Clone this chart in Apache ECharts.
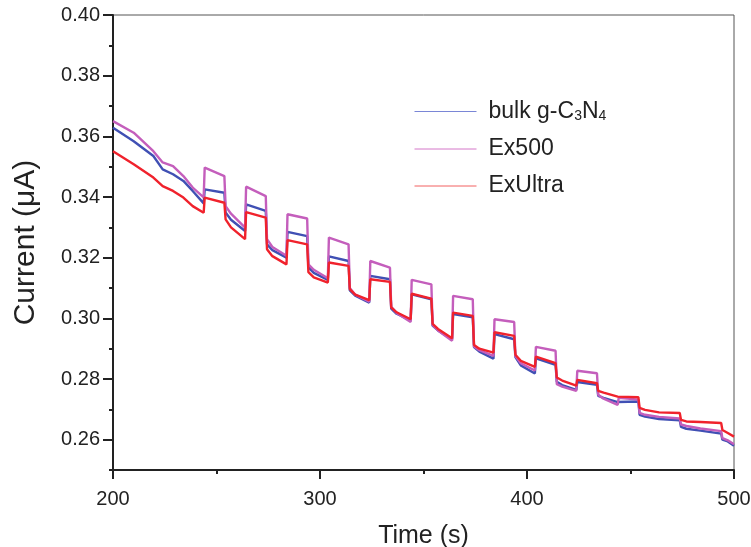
<!DOCTYPE html>
<html>
<head>
<meta charset="utf-8">
<script src="https://cdn.jsdelivr.net/npm/echarts@6/dist/echarts.min.js"></script>
<style>html,body{margin:0;padding:0;background:#fff}#c{width:751px;height:547px}</style>
</head>
<body>
<div id="c"></div>
<script>
var seriesNames = ['bulk g-C3N4', 'Ex500', 'ExUltra'];
var yTickLabels = [0.26, 0.28, 0.30, 0.32, 0.34, 0.36, 0.38, 0.40];
var xTickLabels = [200, 300, 400, 500];

var time = [200, 210, 219.5, 224, 229, 234, 238.5, 243.8,
  244.3, 253.8, 254.4, 257, 263.8,
  264.3, 273.8, 274.4, 277, 283.8,
  284.3, 293.8, 294.4, 297, 303.8,
  304.3, 313.8, 314.4, 317, 323.8,
  324.3, 333.8, 334.4, 337, 343.8,
  344.3, 353.8, 354.4, 357, 363.8,
  364.3, 373.8, 374.4, 377, 383.8,
  384.3, 393.8, 394.4, 397, 403.8,
  404.3, 413.8, 414.4, 417, 423.8,
  424.3, 433.8, 434.4, 437, 443.8,
  444.3, 453.8, 454.4, 457, 463.8,
  464.3, 473.8, 474.4, 477, 483.8,
  484.3, 493.8, 494.4, 497, 500];

var bulk = [0.3628, 0.3584, 0.3535, 0.3491, 0.3475, 0.3453, 0.3420, 0.3379,
  0.3425, 0.3414, 0.3349, 0.3325, 0.3288,
  0.3376, 0.3354, 0.3244, 0.3225, 0.3200,
  0.3285, 0.3271, 0.3168, 0.3150, 0.3127,
  0.3204, 0.3189, 0.3092, 0.3075, 0.3052,
  0.3140, 0.3129, 0.3032, 0.3015, 0.2993,
  0.3079, 0.3063, 0.2976, 0.2960, 0.2930,
  0.3014, 0.3003, 0.2905, 0.2890, 0.2867,
  0.2948, 0.2931, 0.2872, 0.2845, 0.2818,
  0.2868, 0.2847, 0.2791, 0.2780, 0.2764,
  0.2790, 0.2781, 0.2744, 0.2738, 0.2724,
  0.2730, 0.2726, 0.2682, 0.2676, 0.2668,
  0.2668, 0.2664, 0.2642, 0.2636, 0.2630,
  0.2626, 0.2620, 0.2600, 0.2594, 0.2580];

var ex500 = [0.3650, 0.3612, 0.3551, 0.3514, 0.3502, 0.3469, 0.3431, 0.3399,
  0.3497, 0.3469, 0.3370, 0.3345, 0.3299,
  0.3434, 0.3403, 0.3261, 0.3235, 0.3206,
  0.3343, 0.3329, 0.3178, 0.3160, 0.3132,
  0.3266, 0.3244, 0.3100, 0.3078, 0.3055,
  0.3189, 0.3167, 0.3038, 0.3018, 0.2988,
  0.3127, 0.3112, 0.2978, 0.2960, 0.2926,
  0.3074, 0.3063, 0.2907, 0.2895, 0.2876,
  0.2997, 0.2988, 0.2876, 0.2852, 0.2828,
  0.2906, 0.2893, 0.2783, 0.2775, 0.2761,
  0.2827, 0.2819, 0.2748, 0.2735, 0.2715,
  0.2738, 0.2732, 0.2688, 0.2682, 0.2675,
  0.2675, 0.2670, 0.2650, 0.2645, 0.2637,
  0.2635, 0.2628, 0.2605, 0.2598, 0.2585];

var exUltra = [0.3551, 0.3508, 0.3464, 0.3436, 0.3420, 0.3398, 0.3370, 0.3348,
  0.3398, 0.3381, 0.3326, 0.3300, 0.3261,
  0.3350, 0.3332, 0.3228, 0.3205, 0.3178,
  0.3258, 0.3244, 0.3152, 0.3135, 0.3118,
  0.3184, 0.3173, 0.3096, 0.3078, 0.3060,
  0.3129, 0.3120, 0.3036, 0.3020, 0.2997,
  0.3081, 0.3065, 0.2982, 0.2965, 0.2934,
  0.3019, 0.3008, 0.2912, 0.2900, 0.2887,
  0.2954, 0.2942, 0.2880, 0.2860, 0.2840,
  0.2874, 0.2852, 0.2805, 0.2795, 0.2778,
  0.2797, 0.2786, 0.2761, 0.2755, 0.2742,
  0.2745, 0.2740, 0.2705, 0.2698, 0.2690,
  0.2692, 0.2688, 0.2665, 0.2660, 0.2658,
  0.2658, 0.2655, 0.2632, 0.2622, 0.2610];

var FONT = '"Liberation Sans", Arial, sans-serif';
var TXT = '#222';
function pairs(vals) { return time.map(function (t, i) { return [t, vals[i]]; }); }
var hiddenSym = { opacity: 0, color: 'transparent', borderWidth: 0 };

var chart = echarts.init(document.getElementById('c'), null, { renderer: 'canvas' });
chart.setOption({
  animation: false,
  backgroundColor: '#fff',
  textStyle: { fontFamily: FONT },
  grid: { left: 113, right: 17, top: 15, bottom: 77, outerBoundsMode: 'none', containLabel: false,
    show: true, borderColor: '#555', borderWidth: 1, backgroundColor: 'transparent' },
  legend: {
    orient: 'vertical', left: 409, top: 95, itemWidth: 62, itemHeight: 20, itemGap: 14,
    lineStyle: { width: 1 },
    itemStyle: hiddenSym,
    data: [
      { name: seriesNames[0], lineStyle: { color: '#7a86d6', width: 1 }, itemStyle: hiddenSym },
      { name: seriesNames[1], lineStyle: { color: '#d477c8', width: 1 }, itemStyle: hiddenSym },
      { name: seriesNames[2], lineStyle: { color: '#f26060', width: 1 }, itemStyle: hiddenSym }
    ],
    formatter: function (n) { return n === seriesNames[0] ? 'bulk g-C{s|3}N{s|4}' : n; },
    textStyle: {
      fontFamily: FONT, fontSize: 23, color: TXT, padding: [0, 0, 0, 7],
      rich: { s: { fontFamily: FONT, fontSize: 14, color: TXT, padding: [10, 0, 0, 0] } }
    }
  },
  xAxis: {
    type: 'value', min: 200, max: 500, interval: 100,
    name: 'Time (s)', nameLocation: 'middle', nameGap: 54,
    nameTextStyle: { fontFamily: FONT, fontSize: 25, color: TXT },
    axisLine: { show: true, onZero: false, lineStyle: { color: '#222', width: 2 } },
    axisTick: { show: true, inside: false, length: 9, lineStyle: { color: '#222', width: 2 } },
    minorTick: { show: true, splitNumber: 2, length: 4, lineStyle: { color: '#222', width: 2 } },
    axisLabel: { fontFamily: FONT, fontSize: 20, color: TXT, margin: 19 },
    splitLine: { show: false }
  },
  yAxis: [{
    type: 'value', min: 0.25, max: 0.40, interval: 0.01, position: 'left',
    name: 'Current (\u03BCA)', nameLocation: 'middle', nameGap: 72,
    nameTextStyle: { fontFamily: FONT, fontSize: 30, color: TXT },
    axisLine: { show: true, onZero: false, lineStyle: { color: '#222', width: 2 } },
    axisTick: { show: true, inside: false, length: 4, lineStyle: { color: '#222', width: 2 } },
    axisLabel: {
      fontFamily: FONT, fontSize: 20, color: TXT, margin: 13,
      formatter: function (v) {
        var k = Math.round(v * 100);
        return (yTickLabels.indexOf(k / 100) >= 0) ? (k / 100).toFixed(2) : '';
      }
    },
    splitLine: { show: false }
  }, {
    type: 'value', min: 0.25, max: 0.40, position: 'left', offset: 0,
    axisLine: { show: false },
    axisTick: { show: true, inside: false, length: 10, customValues: yTickLabels, lineStyle: { color: '#222', width: 2 } },
    axisLabel: { show: false, customValues: yTickLabels },
    splitLine: { show: false }
  }],
  series: [
    { name: seriesNames[0], type: 'line', data: pairs(bulk), showSymbol: false, symbol: 'none',
      lineStyle: { color: '#4050b4', width: 2.4 }, itemStyle: { color: '#4050b4' }, z: 2 },
    { name: seriesNames[1], type: 'line', data: pairs(ex500), showSymbol: false, symbol: 'none',
      lineStyle: { color: '#c45ebc', width: 2.4 }, itemStyle: { color: '#c45ebc' }, z: 3 },
    { name: seriesNames[2], type: 'line', data: pairs(exUltra), showSymbol: false, symbol: 'none',
      lineStyle: { color: '#f0222c', width: 2.4 }, itemStyle: { color: '#f0222c' }, z: 4 }
  ]
});
</script>
</body>
</html>
